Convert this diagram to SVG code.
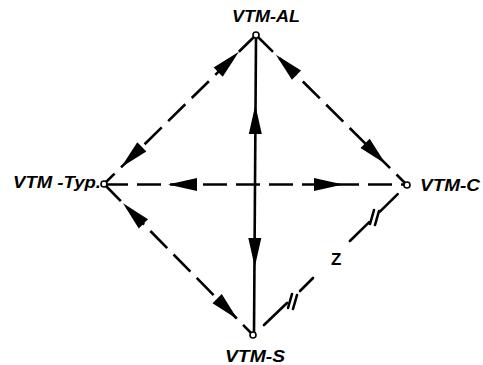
<svg xmlns="http://www.w3.org/2000/svg" width="483" height="365" viewBox="0 0 483 365">
<style>
.lbl{font-family:"Liberation Sans",Arial,sans-serif;font-weight:bold;font-style:italic;font-size:17px;fill:#000}
.zl{font-family:"Liberation Sans",Arial,sans-serif;font-weight:bold;font-size:17px;fill:#000}
.dash{stroke:#000;stroke-width:2.6;fill:none;stroke-dasharray:24 9}
.solid{stroke:#000;stroke-width:2.6;fill:none}
.seg{stroke:#000;stroke-width:2.6;fill:none;stroke-linecap:round}
.node{fill:#fff;stroke:#000;stroke-width:1.6}
.ah{fill:#000}
</style>
<defs>
<path id="ah" d="M0,0 L-29,-6.5 L-29,6.5 Z"/>
</defs>
<rect width="483" height="365" fill="#fff"/>
<g id="connectors">
<line class="dash" x1="256" y1="35" x2="104" y2="184"/>
<line class="dash" x1="256" y1="35" x2="407" y2="185"/>
<line class="dash" x1="104" y1="184.5" x2="407" y2="184.5" stroke-dasharray="20 7"/>
<line class="solid" x1="256" y1="38" x2="254" y2="332"/>
<line class="dash" x1="104" y1="184" x2="253" y2="335"/>
<line class="seg" x1="397.7" y1="194.1" x2="379.9" y2="211.6"/>
<line class="seg" x1="369.2" y1="222.1" x2="349.9" y2="241"/>
<line class="seg" x1="313" y1="278" x2="300" y2="291"/>
<line class="seg" x1="287" y1="303" x2="264" y2="325"/>
<line class="seg" x1="370" y1="224" x2="374" y2="210"/>
<line class="seg" x1="375" y1="225" x2="379" y2="211"/>
<line class="seg" x1="288" y1="308" x2="292" y2="294"/>
<line class="seg" x1="293" y1="309" x2="297" y2="295"/>
<text class="zl" x="331" y="265">Z</text>
<use href="#ah" class="ah" transform="translate(238.9,51.8) rotate(-44.4)"/>
<use href="#ah" class="ah" transform="translate(121.1,167.2) rotate(135.6)"/>
<use href="#ah" class="ah" transform="translate(275.9,54.7) rotate(-135.2)"/>
<use href="#ah" class="ah" transform="translate(385.7,163.9) rotate(44.8)"/>
<use href="#ah" class="ah" transform="translate(168,184.5) rotate(180)"/>
<use href="#ah" class="ah" transform="translate(343,184.5) rotate(0)"/>
<use href="#ah" class="ah" transform="translate(255.3,105) rotate(-90)"/>
<use href="#ah" class="ah" transform="translate(254.8,267) rotate(90)"/>
<use href="#ah" class="ah" transform="translate(123,203.2) rotate(-134.6)"/>
<use href="#ah" class="ah" transform="translate(237.5,319.3) rotate(45.4)"/>
</g>
<g id="node-al">
<circle class="node" cx="256" cy="35" r="3"/>
<text class="lbl" x="232" y="22" textLength="68" lengthAdjust="spacingAndGlyphs">VTM-AL</text>
</g>
<g id="node-typ">
<circle class="node" cx="104" cy="184" r="3"/>
<text class="lbl" x="13" y="188" textLength="88" lengthAdjust="spacingAndGlyphs">VTM -Typ.</text>
</g>
<g id="node-c">
<circle class="node" cx="407" cy="185" r="3"/>
<text class="lbl" x="420" y="191" textLength="60" lengthAdjust="spacingAndGlyphs">VTM-C</text>
</g>
<g id="node-s">
<circle class="node" cx="253" cy="335" r="3"/>
<text class="lbl" x="225" y="362" textLength="60" lengthAdjust="spacingAndGlyphs">VTM-S</text>
</g>
</svg>
